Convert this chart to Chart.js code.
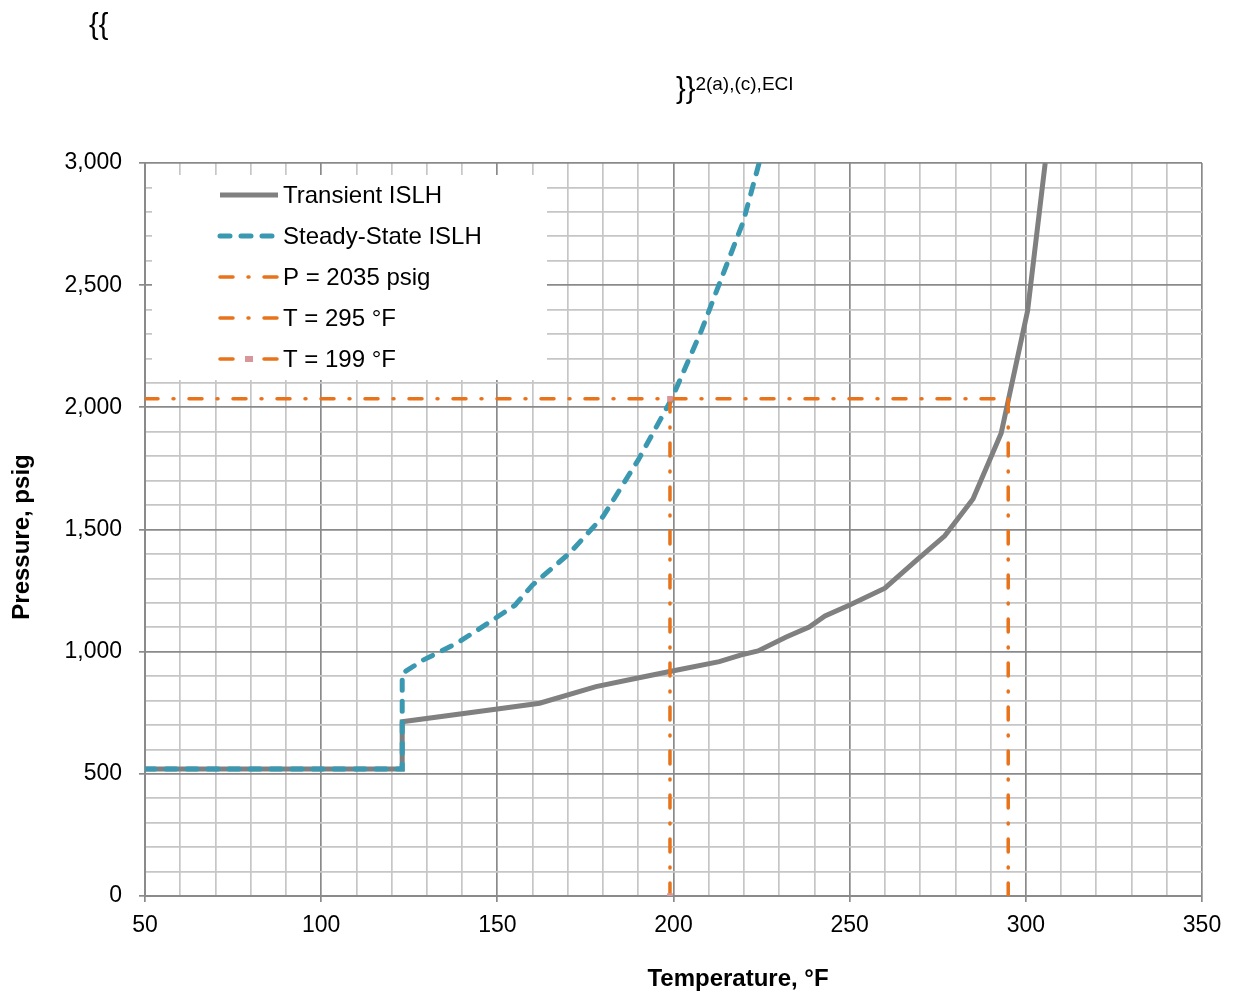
<!DOCTYPE html>
<html>
<head>
<meta charset="utf-8">
<script src="https://cdn.jsdelivr.net/npm/chart.js@4"></script>
<style>
    body { margin: 0; background: #fff; }
    #wrap { position: relative; width: 1234px; height: 996px; }
    .mark { position: absolute; font-family: 'Liberation Sans', Arial, sans-serif; color: #000; line-height: 1; }
    #open { left: 89px; top: 10px; font-size: 29px; }
    #close { left: 676px; top: 74px; font-size: 29px; }
    #close sup { font-size: 19px; position: relative; top: 0px; vertical-align: top; }
</style>
</head>
<body>
<div id="wrap">
    <canvas id="chart" width="1234" height="996"></canvas>
    <div class="mark" id="open">{{</div>
    <div class="mark" id="close">}}<sup>2(a),(c),ECI</sup></div>
</div>
<script>
// Datos (temperatura °F, presion psig)
const transientT = [50, 123, 123, 150, 162, 178, 189.5, 200, 213, 219, 224, 232, 238.5, 243, 250, 260, 269, 277, 285, 293, 300.5, 305.5];
const transientP = [520, 520, 713, 765, 789, 857, 891, 922, 959, 986, 1003, 1060, 1101, 1146, 1191, 1260, 1375, 1474, 1625, 1894, 2395, 3000];

const steadyT = [50, 123, 123, 129, 138.5, 148, 155, 160, 170.5, 180, 190, 199.5, 208, 212.7, 219.8, 224.3];
const steadyP = [520, 520, 911, 966, 1034, 1123, 1190, 1273, 1403, 1553, 1785, 2035, 2317, 2494, 2760, 3000];

const limitP = 2035;
const limitT = 295;
const holdT = 199;

const seriesNames = ['Transient ISLH', 'Steady-State ISLH', 'P = 2035 psig', 'T = 295 °F', 'T = 199 °F'];
const xTitle = 'Temperature, °F';
const yTitle = 'Pressure, psig';

const xMin = 50, xMax = 350, yMin = 0, yMax = 3000;

const toPoints = (xs, ys) => xs.map((x, i) => ({ x: x, y: ys[i] }));

const orange = '#E8731A';
const dashDot = [13, 15, 1, 15];
const fontFamily = "'Liberation Sans', Arial, sans-serif";

// Leyenda dentro del area del grafico + titulos de ejes (no centrados en el original)
const insideLegend = {
    id: 'insideLegend',
    afterDraw(chart) {
        const { ctx, chartArea } = chart;
        const boxLeft = chartArea.left + 7;
        const boxTop = chartArea.top + 12;
        ctx.save();
        ctx.fillStyle = '#fff';
        ctx.fillRect(boxLeft, boxTop, 395, 205);
        chart.data.datasets.forEach((ds, i) => {
            const y = boxTop + 20 + i * 41;
            const x0 = chartArea.left + 75;
            const x1 = chartArea.left + 133;
            ctx.beginPath();
            ctx.setLineDash(ds.borderDash || []);
            ctx.lineCap = ds.borderCapStyle || 'butt';
            ctx.lineWidth = ds.borderWidth;
            ctx.strokeStyle = ds.borderColor;
            ctx.moveTo(x0, y);
            ctx.lineTo(x1, y);
            ctx.stroke();
            if (ds.pointRadius > 0) {
                ctx.fillStyle = ds.pointBackgroundColor;
                ctx.fillRect((x0 + x1) / 2 - 4, y - 3, 8, 6);
            }
            ctx.setLineDash([]);
            ctx.fillStyle = '#000';
            ctx.font = '24px ' + fontFamily;
            ctx.textBaseline = 'middle';
            ctx.textAlign = 'left';
            ctx.fillText(seriesNames[i], chartArea.left + 138, y + 1);
        });
        ctx.font = 'bold 24px ' + fontFamily;
        ctx.textAlign = 'center';
        ctx.textBaseline = 'middle';
        ctx.fillText(xTitle, 738, 979);
        ctx.translate(22, 537);
        ctx.rotate(-Math.PI / 2);
        ctx.fillText(yTitle, 0, 0);
        ctx.restore();
    }
};

const majorX = v => v % 50 === 0;
const majorY = v => v % 500 === 0;

new Chart(document.getElementById('chart'), {
    type: 'line',
    data: {
        datasets: [
            {
                label: seriesNames[0],
                data: toPoints(transientT, transientP),
                borderColor: '#808080',
                borderWidth: 5,
                pointRadius: 0,
                order: 5
            },
            {
                label: seriesNames[1],
                data: toPoints(steadyT, steadyP),
                borderColor: '#3A98B0',
                borderWidth: 5,
                borderDash: [10, 11],
                borderCapStyle: 'round',
                pointRadius: 0,
                order: 4
            },
            {
                label: seriesNames[2],
                data: [{ x: xMin, y: limitP }, { x: limitT, y: limitP }],
                borderColor: orange,
                borderWidth: 3.5,
                borderDash: dashDot,
                borderCapStyle: 'round',
                pointRadius: 0,
                order: 3
            },
            {
                label: seriesNames[3],
                data: [{ x: limitT, y: yMin }, { x: limitT, y: limitP }],
                borderColor: orange,
                borderWidth: 3.5,
                borderDash: dashDot,
                borderCapStyle: 'round',
                pointRadius: 0,
                order: 2
            },
            {
                label: seriesNames[4],
                data: [{ x: holdT, y: yMin }, { x: holdT, y: limitP }],
                borderColor: orange,
                borderWidth: 3.5,
                borderDash: dashDot,
                borderCapStyle: 'round',
                pointStyle: 'rect',
                pointRadius: 4,
                pointBorderWidth: 0,
                pointBackgroundColor: '#D9969A',
                pointBorderColor: '#D9969A',
                order: 1
            }
        ]
    },
    options: {
        responsive: false,
        animation: false,
        layout: { padding: { left: 0, right: 32, top: 163, bottom: 0 } },
        plugins: {
            legend: { display: false },
            tooltip: { enabled: false }
        },
        scales: {
            x: {
                type: 'linear',
                min: xMin,
                max: xMax,
                afterFit: scale => { scale.height = 100; },
                border: { color: '#8a8a8a', width: 2 },
                grid: {
                    color: c => majorX(c.tick.value) ? '#8a8a8a' : '#c6c6c6',
                    tickColor: c => majorX(c.tick.value) ? '#8a8a8a' : 'rgba(0,0,0,0)',
                    lineWidth: 1.7,
                    tickLength: 6
                },
                ticks: {
                    stepSize: 10,
                    autoSkip: false,
                    maxRotation: 0,
                    padding: 10,
                    color: '#000',
                    font: { family: fontFamily, size: 23 },
                    callback: v => majorX(v) ? String(v) : ''
                },
                title: { display: false }
            },
            y: {
                min: yMin,
                max: yMax,
                afterFit: scale => { scale.width = 145; },
                border: { color: '#8a8a8a', width: 2 },
                grid: {
                    color: c => majorY(c.tick.value) ? '#8a8a8a' : '#c6c6c6',
                    tickColor: c => majorY(c.tick.value) ? '#8a8a8a' : 'rgba(0,0,0,0)',
                    lineWidth: 1.7,
                    tickLength: 6
                },
                ticks: {
                    stepSize: 100,
                    autoSkip: false,
                    padding: 17,
                    color: '#000',
                    font: { family: fontFamily, size: 23 },
                    callback: v => majorY(v) ? v.toLocaleString('en-US') : ''
                },
                title: { display: false }
            }
        }
    },
    plugins: [insideLegend]
});
</script>
</body>
</html>
